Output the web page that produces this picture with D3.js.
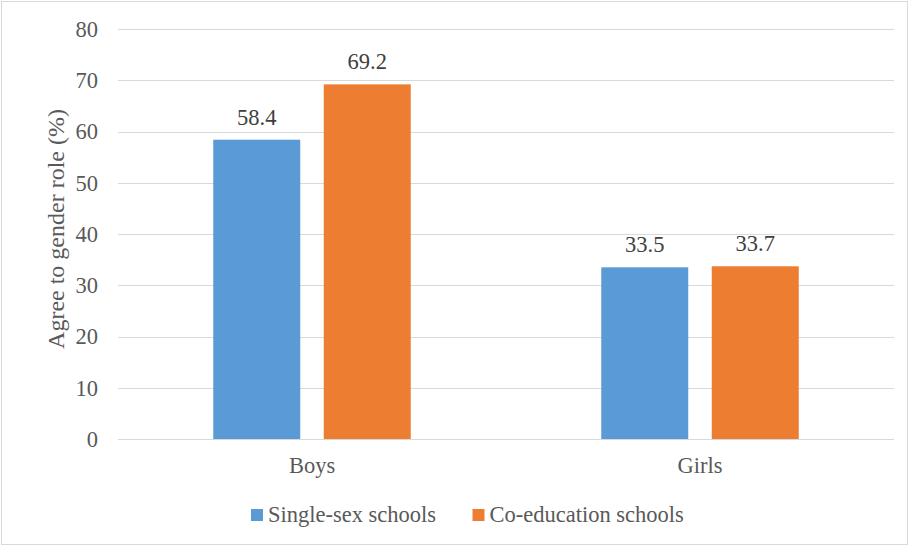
<!DOCTYPE html>
<html><head><meta charset="utf-8">
<script src="https://cdn.jsdelivr.net/npm/d3@7"></script>
<style>body{margin:0;background:#fff} svg text{font-family:"Liberation Serif","Times New Roman",Times,"DejaVu Serif",serif;}</style>
</head><body>
<svg id="c" width="909" height="546"></svg>
<script>
const categories = ["Boys", "Girls"];
const seriesNames = ["Single-sex schools", "Co-education schools"];
const singleSex = [58.4, 33.5];
const coEducation = [69.2, 33.7];
const yTicks = [0, 10, 20, 30, 40, 50, 60, 70, 80];
const colors = ["#5b9bd5", "#ed7d31"];

const svg = d3.select("#c");
const textColor = "#595959";
const fs = 22.5;
svg.append("rect").attr("x",1.5).attr("y",1.5).attr("width",906).attr("height",543)
  .attr("fill","#fff").attr("stroke","#d9d9d9").attr("stroke-width",1);

const mLeft = 118, mRight = 894, mTop = 29, mBottom = 439;
const x = d3.scaleBand().domain(categories).range([mLeft, mRight]).paddingInner(0).paddingOuter(0);
const y = d3.scaleLinear().domain([0, 80]).range([mBottom, mTop]);

const barW = 87, gap = 23.5;
const series = [singleSex, coEducation];

// gridlines
svg.append("g").selectAll("line").data(yTicks).join("line")
  .attr("x1", mLeft).attr("x2", mRight)
  .attr("y1", d => Math.round(y(d)) + 0.5).attr("y2", d => Math.round(y(d)) + 0.5)
  .attr("stroke", "#d9d9d9").attr("stroke-width", 1);

// y axis labels
const yAxis = d3.axisLeft(y).tickValues(yTicks).tickSize(0).tickPadding(0).tickFormat(d3.format("d"));
const ya = svg.append("g").attr("transform", `translate(${mLeft - 20},0)`).call(yAxis);
ya.attr("font-family", null).attr("font-size", null);
ya.select(".domain").remove();
ya.selectAll("text").style("font-size", fs + "px").attr("fill", textColor).attr("dy","0.33em");

// x axis labels
const xAxis = d3.axisBottom(x).tickSize(0).tickPadding(0);
const xa = svg.append("g").attr("transform", `translate(0,473)`).call(xAxis);
xa.attr("font-family", null).attr("font-size", null);
xa.select(".domain").remove();
xa.selectAll("text").style("font-size", fs + "px").attr("fill", textColor).attr("dy", 0).attr("y", 0);

// bars
series.forEach((vals, si) => {
  const g = svg.append("g");
  const offset = si === 0 ? -(gap/2 + barW) : gap/2;
  g.selectAll("rect").data(vals).join("rect")
    .attr("x", (d,i) => x(categories[i]) + x.bandwidth()/2 + offset)
    .attr("y", d => y(d)).attr("width", barW).attr("height", d => y(0) - y(d))
    .attr("fill", colors[si]);
  g.selectAll("text").data(vals).join("text")
    .attr("x", (d,i) => x(categories[i]) + x.bandwidth()/2 + offset + barW/2)
    .attr("y", d => y(d) - 15)
    .attr("text-anchor", "middle")
    .style("font-size", fs + "px").attr("fill", "#404040")
    .text(d => d.toFixed(1));
});

// axis title
svg.append("text")
  .attr("transform", `translate(64,229) rotate(-90)`)
  .attr("text-anchor","middle")
  .style("font-size", "24px").attr("fill", textColor)
  .text("Agree to gender role (%)");

// legend
const legX = [251, 472.5];
seriesNames.forEach((n, i) => {
  svg.append("rect").attr("x", legX[i]).attr("y", 509).attr("width", 12).attr("height", 12).attr("fill", colors[i]);
  svg.append("text").attr("x", legX[i] + 17).attr("y", 521.5)
    .style("font-size", fs + "px").attr("fill", textColor).text(n);
});
</script>
</body></html>
